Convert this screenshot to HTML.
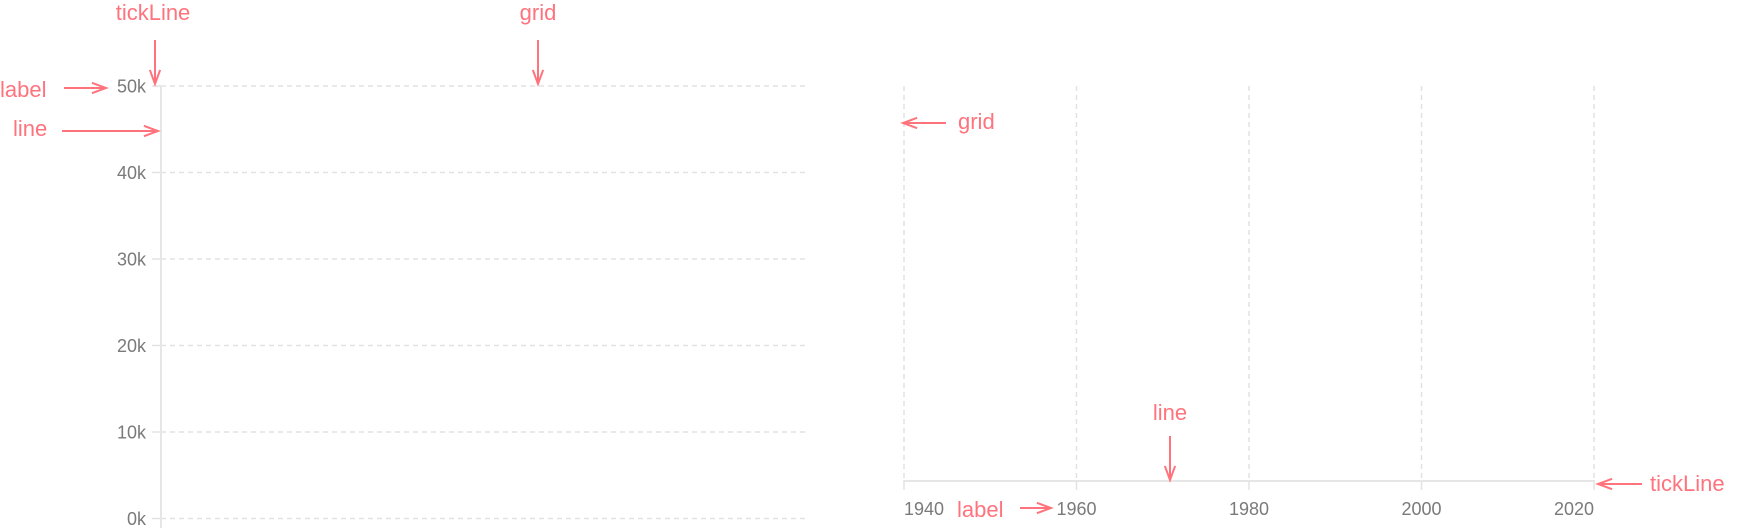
<!DOCTYPE html>
<html><head><meta charset="utf-8"><style>
html,body{margin:0;padding:0;background:#fff;}
svg{display:block;font-family:"Liberation Sans",Arial,sans-serif;}
.ann{fill:#ff737d;font-size:22px;}
.tk{fill:#7a7a7a;font-size:18px;}
</style></head><body>
<svg id="c" width="1740" height="528" viewBox="0 0 1740 528">
<g id="left"></g>
<g id="right"></g>
<g id="ann"></g>
</svg>
<script>
const yTicks = [0, 10, 20, 30, 40, 50];
const yTickLabels = ["0k", "10k", "20k", "30k", "40k", "50k"];
const xTicks = [1940, 1960, 1980, 2000, 2020];
const xTickLabels = ["1940", "1960", "1980", "2000", "2020"];

const NS = "http://www.w3.org/2000/svg";
function mk(tag, attrs, parent, text) {
  const e = document.createElementNS(NS, tag);
  for (const k in attrs) e.setAttribute(k, attrs[k]);
  if (text !== undefined) e.textContent = text;
  parent.appendChild(e);
  return e;
}
// left: y axis
const yScale = v => 518.5 - (v - 0) / 50 * (518.5 - 86);
const L = document.getElementById('left');
yTicks.forEach((v, i) => {
  const y = yScale(v);
  const g = mk('line', {x1: 161, x2: 806, y1: y, y2: y, stroke: '#e2e2e2', 'stroke-width': 1.5, 'stroke-dasharray': '5,4'}, L);
  
  
  const t = mk('line', {x1: 152, x2: 161, y1: y, y2: y, stroke: '#e2e2e2', 'stroke-width': 1.5}, L);
  
  
  const lb = mk('text', {x: 146, y: y + 6.5, 'text-anchor': 'end', class: 'tk'}, L, yTickLabels[i]);
  
  
});
const yl = mk('line', {x1: 161, x2: 161, y1: 86, y2: 528, stroke: '#e6e6e6', 'stroke-width': 2}, L);



// right: x axis
const xScale = v => 904 + (v - 1940) / 80 * (1594 - 904);
const R = document.getElementById('right');
xTicks.forEach((v, i) => {
  const x = xScale(v);
  const g = mk('line', {x1: x, x2: x, y1: 86, y2: 481, stroke: '#e2e2e2', 'stroke-width': 1.5, 'stroke-dasharray': '5,4'}, R);
  
  
  const t = mk('line', {x1: x, x2: x, y1: 481, y2: 490, stroke: '#e2e2e2', 'stroke-width': 1.5}, R);
  
  
  const anchor = i === 0 ? 'start' : (i === xTicks.length - 1 ? 'end' : 'middle');
  const lb = mk('text', {x: x, y: 515, 'text-anchor': anchor, class: 'tk'}, R, xTickLabels[i]);
  
  
});
const xl = mk('line', {x1: 903, x2: 1595, y1: 481, y2: 481, stroke: '#e6e6e6', 'stroke-width': 2}, R);



// annotations
const A = document.getElementById('ann');
function arrow(x1, y1, x2, y2) {
  const g = mk('g', {stroke: '#ff737d', 'stroke-width': 2, fill: 'none'}, A);
  
  
  mk('line', {x1, y1, x2, y2}, g);
  const a = Math.atan2(y2 - y1, x2 - x1), h = 15, w = 0.35;
  mk('polyline', {points: `${x2 - h * Math.cos(a - w)},${y2 - h * Math.sin(a - w)} ${x2},${y2} ${x2 - h * Math.cos(a + w)},${y2 - h * Math.sin(a + w)}`}, g);
}
function label(txt, x, y, anchor) {
  const t = mk('text', {x, y, 'text-anchor': anchor, class: 'ann'}, A, txt);
  
  
}
label('tickLine', 153, 20, 'middle'); arrow(155, 40, 155, 84);
label('grid', 538, 20, 'middle'); arrow(538, 40, 538, 84);
label('label', 0, 97, 'start'); arrow(64, 88, 106, 88);
label('line', 13, 136, 'start'); arrow(62, 131, 158, 131);
label('grid', 958, 129, 'start'); arrow(946, 123, 903, 123);
label('line', 1170, 420, 'middle'); arrow(1170, 436, 1170, 480);
label('label', 957, 517, 'start'); arrow(1020, 508, 1051, 508);
label('tickLine', 1650, 491, 'start'); arrow(1642, 484, 1598, 484);
</script>
</body></html>
